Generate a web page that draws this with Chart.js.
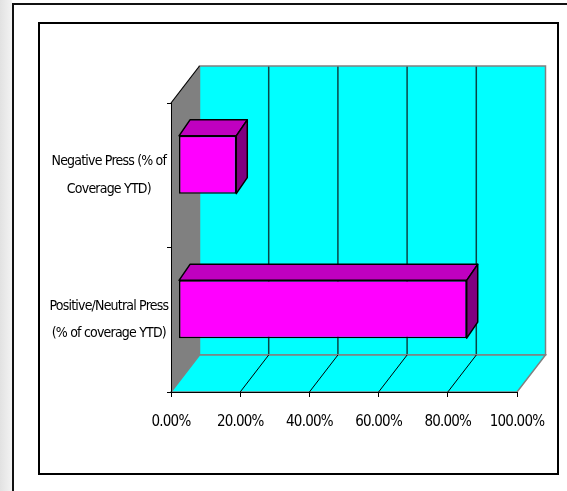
<!DOCTYPE html>
<html>
<head>
<meta charset="utf-8">
<script src="https://cdn.jsdelivr.net/npm/chart.js@4/dist/chart.umd.min.js"></script>
<style>
  body { margin: 0; background: #fff; }
  #wrap { position: relative; width: 567px; height: 491px; overflow: hidden; }
  .strip { position: absolute; left: 0; top: 0; width: 12px; height: 491px; background: linear-gradient(to right, #e2e2e2, #f3f3f3); }
  .outer { position: absolute; left: 12px; top: 3px; width: 700px; height: 700px; border-top: 2px solid #111; border-left: 2px solid #111; }
  .inner { position: absolute; left: 38px; top: 22px; width: 517px; height: 449px; border: 2px solid #000; }
  canvas { position: absolute; left: 0; top: 0; }
</style>
</head>
<body>
<div id="wrap">
  <div class="strip"></div>
  <div class="outer"></div>
  <div class="inner"></div>
  <canvas id="chart" width="567" height="491"></canvas>
</div>
<script>
const categorias = [
  ['Negative Press (% of', 'Coverage YTD)'],
  ['Positive/Neutral Press', '(% of coverage YTD)']
];
const valores = [0.167, 0.833];
const ticksX = [0, 0.2, 0.4, 0.6, 0.8, 1];

const FONTE = "'Liberation Sans Narrow', 'Arial Narrow', 'DejaVu Sans Condensed', sans-serif";

// profundidade do "3D"
const paredeDx = 28.5, paredeDy = -37;
const barraDx = 7.5, barraDy = -10.5;
const topoDx = 11, topoDy = -16;

const cenario3d = {
  id: 'cenario3d',
  beforeDraw(chart) {
    const { ctx, chartArea: a, scales } = chart;
    const x = scales.x;
    // texto mais apertado, como o Arial Narrow do original
    if ('letterSpacing' in ctx) ctx.letterSpacing = '-0.8px';
    ctx.save();
    ctx.lineWidth = 1;

    // parede do fundo
    ctx.fillStyle = '#00FFFF';
    ctx.fillRect(a.left + paredeDx, a.top + paredeDy, a.right - a.left, a.bottom - a.top);
    ctx.strokeStyle = '#0a4646';
    ctx.lineWidth = 1.5;
    ticksX.slice(1, -1).forEach(v => {
      const px = x.getPixelForValue(v) + paredeDx;
      ctx.beginPath();
      ctx.moveTo(px, a.top + paredeDy);
      ctx.lineTo(px, a.bottom + paredeDy);
      ctx.stroke();
    });
    ctx.strokeStyle = '#808080';
    ctx.strokeRect(a.left + paredeDx, a.top + paredeDy, a.right - a.left, a.bottom - a.top);

    // parede lateral
    ctx.fillStyle = '#808080';
    ctx.beginPath();
    ctx.moveTo(a.left, a.top);
    ctx.lineTo(a.left + paredeDx, a.top + paredeDy);
    ctx.lineTo(a.left + paredeDx, a.bottom + paredeDy);
    ctx.lineTo(a.left, a.bottom);
    ctx.closePath();
    ctx.fill();
    ctx.strokeStyle = '#000';
    ctx.lineWidth = 1.2;
    ctx.beginPath();
    ctx.moveTo(a.left, a.top);
    ctx.lineTo(a.left + paredeDx, a.top + paredeDy);
    ctx.stroke();

    // piso
    ctx.fillStyle = '#00FFFF';
    ctx.beginPath();
    ctx.moveTo(a.left, a.bottom);
    ctx.lineTo(a.right, a.bottom);
    ctx.lineTo(a.right + paredeDx, a.bottom + paredeDy);
    ctx.lineTo(a.left + paredeDx, a.bottom + paredeDy);
    ctx.closePath();
    ctx.fill();
    ctx.strokeStyle = '#808080';
    ctx.lineWidth = 1.5;
    ctx.stroke();
    ctx.strokeStyle = '#000';
    ctx.lineWidth = 1;
    ticksX.slice(1, -1).forEach(v => {
      const px = x.getPixelForValue(v);
      ctx.beginPath();
      ctx.moveTo(px, a.bottom);
      ctx.lineTo(px + paredeDx, a.bottom + paredeDy);
      ctx.stroke();
    });
    ctx.restore();
  },
  beforeDatasetsDraw(chart) {
    chart.ctx.save();
    chart.ctx.translate(barraDx, barraDy);
  },
  afterDatasetsDraw(chart) {
    const ctx = chart.ctx;
    const meta = chart.getDatasetMeta(0);
    ctx.lineWidth = 1.5;
    ctx.strokeStyle = '#000';
    ctx.lineJoin = 'round';
    meta.data.forEach(bar => {
      const esq = bar.base, dir = bar.x;
      const cima = bar.y - bar.height / 2, baixo = bar.y + bar.height / 2;
      // topo
      ctx.fillStyle = '#C000C0';
      ctx.beginPath();
      ctx.moveTo(esq, cima);
      ctx.lineTo(esq + topoDx, cima + topoDy);
      ctx.lineTo(dir + topoDx, cima + topoDy);
      ctx.lineTo(dir, cima);
      ctx.closePath();
      ctx.fill();
      ctx.stroke();
      // lado
      ctx.fillStyle = '#800080';
      ctx.beginPath();
      ctx.moveTo(dir, cima);
      ctx.lineTo(dir + topoDx, cima + topoDy);
      ctx.lineTo(dir + topoDx, baixo + topoDy);
      ctx.lineTo(dir, baixo);
      ctx.closePath();
      ctx.fill();
      ctx.stroke();
    });
    ctx.restore();
  }
};

new Chart(document.getElementById('chart'), {
  type: 'bar',
  data: {
    labels: categorias,
    datasets: [{
      data: valores,
      backgroundColor: '#FF00FF',
      borderColor: '#000',
      borderWidth: 1.5,
      borderSkipped: false,
      barPercentage: 0.4,
      categoryPercentage: 1,
      clip: false
    }]
  },
  options: {
    indexAxis: 'y',
    responsive: false,
    animation: false,
    layout: { padding: { top: 103, right: 50, bottom: 0, left: 0 } },
    plugins: {
      legend: { display: false },
      tooltip: { enabled: false }
    },
    scales: {
      x: {
        min: 0,
        max: 1,
        afterFit: (s) => { s.height = 99; },
        afterBuildTicks: (s) => { s.ticks = ticksX.map(v => ({ value: v })); },
        grid: { drawOnChartArea: false, tickLength: 5, color: '#000' },
        border: { color: '#000', width: 1 },
        ticks: {
          padding: 16,
          maxRotation: 0,
          minRotation: 0,
          autoSkip: false,
          color: '#000',
          font: { family: FONTE, size: 15 },
          callback: (v) => (v * 100).toFixed(2) + '%'
        }
      },
      y: {
        afterFit: (s) => { s.width = 171; },
        grid: { drawOnChartArea: false, tickLength: 4, color: '#000' },
        border: { color: '#000', width: 1 },
        ticks: {
          crossAlign: 'center',
          padding: -10,
          color: '#000',
          font: { family: FONTE, size: 14, lineHeight: 1.95 }
        }
      }
    }
  },
  plugins: [cenario3d]
});
</script>
</body>
</html>
